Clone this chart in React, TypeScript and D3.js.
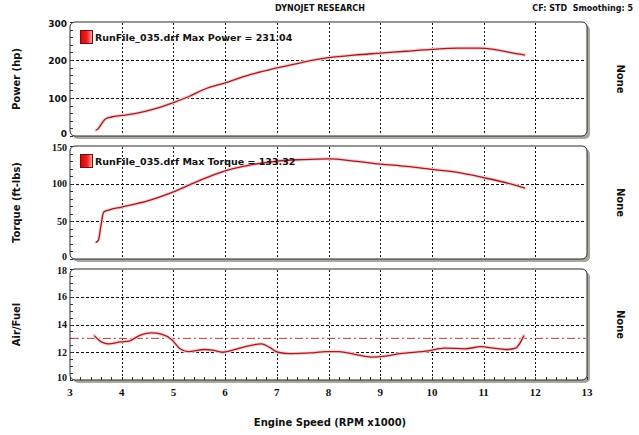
import { useEffect, useRef } from 'react';
import * as d3 from 'd3';

// Engine speed samples (RPM x1000) and readings taken from the dyno sheet
const powerRpm = [3.5, 3.55, 3.6, 3.65, 3.7, 3.8, 4.0, 4.3, 4.6, 5.0, 5.3, 5.6, 6.0, 6.5, 7.0, 7.5, 8.0, 8.5, 9.0, 9.5, 10.0, 10.5, 10.9, 11.2, 11.5, 11.8];
const powerHp = [15, 20, 30, 40, 46, 50, 54, 60, 70, 88, 104, 123, 140, 162, 179, 194, 206, 213, 218, 223, 228, 231, 231, 228, 220, 213];

const torqueRpm = [3.5, 3.55, 3.6, 3.65, 3.75, 4.0, 4.5, 5.0, 5.5, 6.0, 6.5, 7.0, 7.5, 8.0, 8.5, 9.0, 9.5, 10.0, 10.5, 11.0, 11.5, 11.8];
const torqueFtLbs = [22, 25, 45, 62, 65, 69, 77, 89, 104, 117, 125, 130, 132, 133, 130, 126, 123, 119, 115, 108, 100, 94];

const afrRpm = [3.47, 3.55, 3.75, 3.98, 4.14, 4.34, 4.57, 4.77, 4.97, 5.13, 5.28, 5.6, 5.76, 5.95, 6.15, 6.39, 6.7, 6.86, 7.02, 7.25, 7.65, 7.96, 8.2, 8.51, 8.83, 9.06, 9.38, 9.93, 10.24, 10.64, 10.95, 11.19, 11.43, 11.62, 11.74, 11.78];
const afrValues = [13.2, 12.9, 12.6, 12.75, 12.8, 13.2, 13.4, 13.3, 12.9, 12.25, 12.05, 12.2, 12.15, 12.0, 12.15, 12.4, 12.6, 12.35, 12.0, 11.9, 11.95, 12.05, 12.05, 11.85, 11.65, 11.7, 11.9, 12.1, 12.3, 12.25, 12.4, 12.3, 12.2, 12.3, 12.9, 13.2];
const afrTarget = 13;

const xTicks = [3, 4, 5, 6, 7, 8, 9, 10, 11, 12, 13];
const powerTicks = [0, 100, 200, 300];
const torqueTicks = [0, 50, 100, 150];
const afrTicks = [10, 12, 14, 16, 18];

const W = 639;
const H = 435;

export default function App() {
  const svgRef = useRef<SVGSVGElement>(null);

  useEffect(() => {
    if (!svgRef.current) return;
    const svg = d3.select(svgRef.current);
    svg.selectAll('*').remove();

    const left = 70;
    const right = 587;
    const x = d3.scaleLinear().domain([3, 13]).range([left, right]);

    const curveColor = '#a01c22';
    const haloColor = '#f8d2d2';
    const sans = 'Tahoma, Verdana, "DejaVu Sans", sans-serif';
    const serif = '"Liberation Serif", "DejaVu Serif", serif';

    // gradient for legend swatch
    const defs = svg.append('defs');
    const grad = defs.append('linearGradient').attr('id', 'swatch').attr('x1', '0%').attr('x2', '100%');
    grad.append('stop').attr('offset', '0%').attr('stop-color', '#e00000');
    grad.append('stop').attr('offset', '55%').attr('stop-color', '#f02020');
    grad.append('stop').attr('offset', '100%').attr('stop-color', '#f8b0b0');

    const panels = [
      { top: 22, bottom: 136, domain: [0, 300], ticks: powerTicks, grid: [100, 200], rpm: powerRpm, vals: powerHp,
        title: 'Power (hp)', legend: 'RunFile_035.drf Max Power = 231.04', serifTicks: false, minor: 20 },
      { top: 146, bottom: 259, domain: [0, 150], ticks: torqueTicks, grid: [50, 100], rpm: torqueRpm, vals: torqueFtLbs,
        title: 'Torque (ft-lbs)', legend: 'RunFile_035.drf Max Torque = 133.32', serifTicks: true, minor: 10 },
      { top: 269, bottom: 380, domain: [10, 18], ticks: afrTicks, grid: [12, 14, 16], rpm: afrRpm, vals: afrValues,
        title: 'Air/Fuel', legend: '', serifTicks: true, minor: 0.5 },
    ];

    panels.forEach((p, pi) => {
      const y = d3.scaleLinear().domain(p.domain).range([p.bottom, p.top]);
      const g = svg.append('g');

      // shadow + frame
      g.append('rect')
        .attr('x', left + 3).attr('y', p.top + 3)
        .attr('width', right - left).attr('height', p.bottom - p.top)
        .attr('rx', 5).attr('fill', '#a9a9a1');
      g.append('rect')
        .attr('x', left).attr('y', p.top)
        .attr('width', right - left).attr('height', p.bottom - p.top)
        .attr('rx', 5).attr('fill', '#fff')
        .attr('stroke', '#2a2a2a').attr('stroke-width', 1);

      // vertical grid
      g.selectAll('.vgrid')
        .data(xTicks.slice(1, -1))
        .join('line')
        .attr('x1', d => Math.round(x(d)) + 0.5).attr('x2', d => Math.round(x(d)) + 0.5)
        .attr('y1', p.top + 1).attr('y2', p.bottom - 1)
        .attr('stroke', '#111').attr('stroke-width', 1)
        .attr('stroke-dasharray', '2,2');

      // horizontal grid
      g.selectAll('.hgrid')
        .data(p.grid)
        .join('line')
        .attr('x1', left + 1).attr('x2', right - 1)
        .attr('y1', d => Math.round(y(d)) + 0.5).attr('y2', d => Math.round(y(d)) + 0.5)
        .attr('stroke', '#111').attr('stroke-width', 1)
        .attr('stroke-dasharray', '3,2');

      // left minor ticks
      g.selectAll('.lt')
        .data(d3.range(p.domain[0], p.domain[1] + 1e-9, p.minor))
        .join('line')
        .attr('x1', left).attr('x2', left + 3)
        .attr('y1', d => Math.round(y(d)) + 0.5).attr('y2', d => Math.round(y(d)) + 0.5)
        .attr('stroke', '#333').attr('stroke-width', 1);

      // y tick labels (end labels nudged inward so neighbouring panels don't collide)
      g.selectAll('.yl')
        .data(p.ticks)
        .join('text')
        .attr('x', left - 3)
        .attr('y', d => y(d) + (d === p.domain[0] ? 1 : d === p.domain[1] ? 5 : 3.5))
        .attr('text-anchor', 'end')
        .style('font-family', p.serifTicks ? serif : sans)
        .style('font-size', p.serifTicks ? '10px' : '9px')
        .style('font-weight', 'bold')
        .style('fill', '#111')
        .text(d => String(d));

      // target AFR reference line
      if (pi === 2) {
        g.append('line')
          .attr('x1', left + 1).attr('x2', right - 1)
          .attr('y1', y(afrTarget)).attr('y2', y(afrTarget))
          .attr('stroke', '#c0393b').attr('stroke-width', 1)
          .attr('stroke-dasharray', '8,3,2,3');

        // bottom minor ticks
        g.selectAll('.bt')
          .data(d3.range(3, 13.0001, 0.2))
          .join('line')
          .attr('x1', d => Math.round(x(d)) + 0.5).attr('x2', d => Math.round(x(d)) + 0.5)
          .attr('y1', p.bottom - 3).attr('y2', p.bottom)
          .attr('stroke', '#333').attr('stroke-width', 1);
      }

      // curve
      const data = p.rpm.map((r, i) => [r, p.vals[i]] as [number, number]);
      const line = d3.line<[number, number]>()
        .x(d => x(d[0]))
        .y(d => y(d[1]))
        .curve(d3.curveMonotoneX);
      g.append('path').datum(data)
        .attr('fill', 'none').attr('stroke', haloColor).attr('stroke-width', 3.5)
        .attr('stroke-linejoin', 'round').attr('stroke-linecap', 'round')
        .attr('d', line);
      g.append('path').datum(data)
        .attr('fill', 'none').attr('stroke', curveColor).attr('stroke-width', 1.3)
        .attr('stroke-linejoin', 'round')
        .attr('d', line);

      // legend
      if (p.legend) {
        g.append('rect')
          .attr('x', 80.5).attr('y', p.top + 8.5)
          .attr('width', 12).attr('height', 13)
          .attr('fill', 'url(#swatch)')
          .attr('stroke', '#6a1010').attr('stroke-width', 1);
        g.append('text')
          .attr('x', 95).attr('y', p.top + 19)
          .style('font-family', sans)
          .style('font-size', '9.5px')
          .style('font-weight', 'bold')
          .style('fill', '#111')
          .text(p.legend);
      }

      // axis title
      const cy = (p.top + p.bottom) / 2;
      g.append('text')
        .attr('transform', `translate(20,${cy}) rotate(-90)`)
        .attr('text-anchor', 'middle')
        .style('font-family', sans)
        .style('font-size', '10px')
        .style('font-weight', 'bold')
        .style('fill', '#111')
        .text(p.title);

      g.append('text')
        .attr('transform', `translate(617,${cy}) rotate(90)`)
        .attr('text-anchor', 'middle')
        .style('font-family', sans)
        .style('font-size', '10px')
        .style('font-weight', 'bold')
        .style('fill', '#111')
        .text('None');
    });

    // x tick labels
    svg.append('g').selectAll('text')
      .data(xTicks)
      .join('text')
      .attr('x', d => x(d))
      .attr('y', 396)
      .attr('text-anchor', 'middle')
      .style('font-family', serif)
      .style('font-size', '11px')
      .style('font-weight', 'bold')
      .style('fill', '#111')
      .text(d => String(d));

    svg.append('text')
      .attr('x', 330).attr('y', 426)
      .attr('text-anchor', 'middle')
      .style('font-family', sans)
      .style('font-size', '10px')
      .style('font-weight', 'bold')
      .style('fill', '#111')
      .text('Engine Speed (RPM x1000)');

    svg.append('text')
      .attr('x', 320).attr('y', 11)
      .attr('text-anchor', 'middle')
      .style('font-family', sans)
      .style('font-size', '8px')
      .style('font-weight', 'bold')
      .style('fill', '#111')
      .text('DYNOJET RESEARCH');

    svg.append('text')
      .attr('x', 633).attr('y', 11)
      .attr('text-anchor', 'end')
      .style('font-family', sans)
      .style('font-size', '8px')
      .style('font-weight', 'bold')
      .style('fill', '#111')
      .style('white-space', 'pre')
      .text('CF: STD  Smoothing: 5');
  }, []);

  return (
    <svg
      ref={svgRef}
      width={W}
      height={H}
      style={{ position: 'absolute', left: 0, top: 0, background: '#fff' }}
    />
  );
}
